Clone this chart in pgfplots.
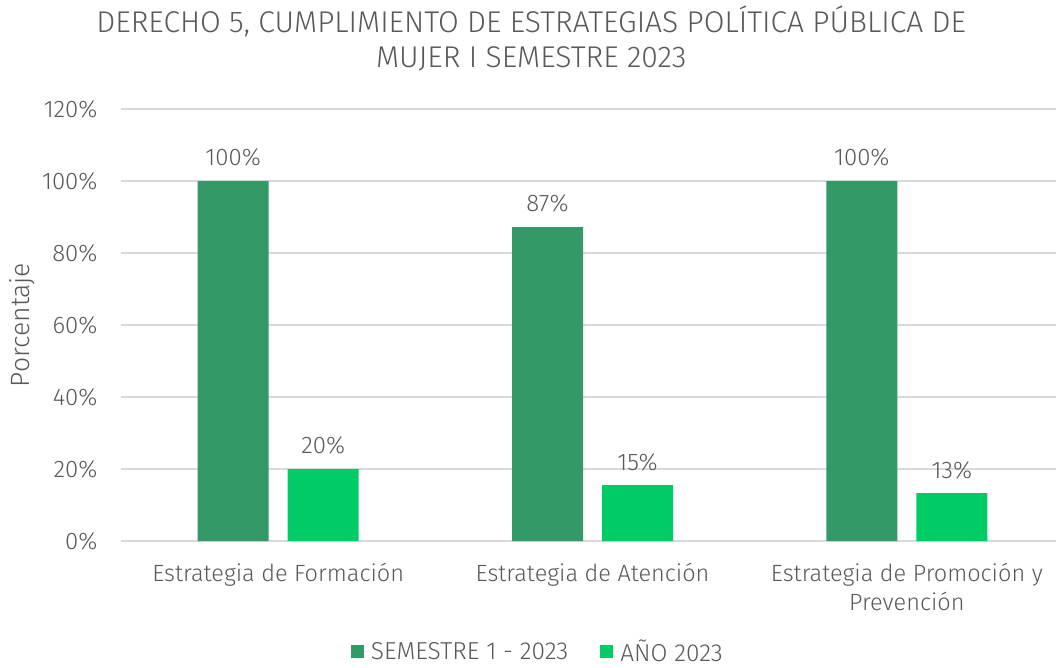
\documentclass[border=0pt]{standalone}
\usepackage{pgfplots}
\pgfplotsset{compat=1.18}
\usepackage{fontspec}
\setmainfont{Fira Sans}[UprightFont=* Light]
\definecolor{dg}{HTML}{339966}
\definecolor{lg}{HTML}{00CC66}
\definecolor{tx}{HTML}{595959}
\definecolor{gr}{HTML}{D9D9D9}
\begin{document}
\begin{tikzpicture}[x=1pt,y=1pt]
\useasboundingbox (-121,-126) rectangle (935,541);
\begin{axis}[
  at={(0,0)}, anchor=south west,
  scale only axis, width=943pt, height=432pt,
  ymin=0, ymax=120, ytick={0,20,...,120},
  yticklabels={0\%,20\%,40\%,60\%,80\%,100\%,120\%},
  xmin=-0.5, xmax=2.5, xtick={0,1,2},
  xticklabels={Estrategia de Formación,Estrategia de Atención,Estrategia de Promoción y\\Prevención},
  xticklabel style={align=center, font=\fontsize{23.5}{29}\selectfont, text=tx, yshift=-19pt},
  yticklabel style={font=\fontsize{24}{28}\selectfont, text=tx, xshift=-20pt},
  major tick length=0pt,
  axis line style={draw=none},
  ymajorgrids, grid style={gr, line width=1.3pt},
  ybar=19pt, bar width=71pt,
  ylabel={Porcentaje}, ylabel style={font=\fontsize{26.5}{30}\selectfont, text=tx, at={(axis description cs:-0.105,0.5)}, rotate=0, anchor=center},
  title={DERECHO 5, CUMPLIMIENTO DE ESTRATEGIAS POLÍTICA PÚBLICA DE\\MUJER I SEMESTRE 2023},
  title style={align=center, font=\fontsize{30}{35}\selectfont, text=tx, at={(0.435,1.15)}, anchor=center},
  point meta=explicit symbolic,
  nodes near coords, nodes near coords style={font=\fontsize{24}{28}\selectfont, text=tx, yshift=11pt},
  legend columns=2,
  legend style={draw=none, at={(0.442,-0.256)}, anchor=center, font=\fontsize{24.5}{28}\selectfont, text=tx,
    /tikz/every even column/.append style={column sep=30pt}},
  legend image code/.code={\fill[#1] (0pt,-6.5pt) rectangle (13pt,6.5pt); \path (0pt,0pt) -- (18pt,0pt);},
]
\addplot[fill=dg, draw=none] coordinates {(0,100) [100\%] (1,87.2) [87\%] (2,100) [100\%]};
\addplot[fill=lg, draw=none] coordinates {(0,20) [20\%] (1,15.5) [15\%] (2,13.3) [13\%]};
\legend{SEMESTRE 1 - 2023, AÑO 2023}
\end{axis}
\end{tikzpicture}
\end{document}
